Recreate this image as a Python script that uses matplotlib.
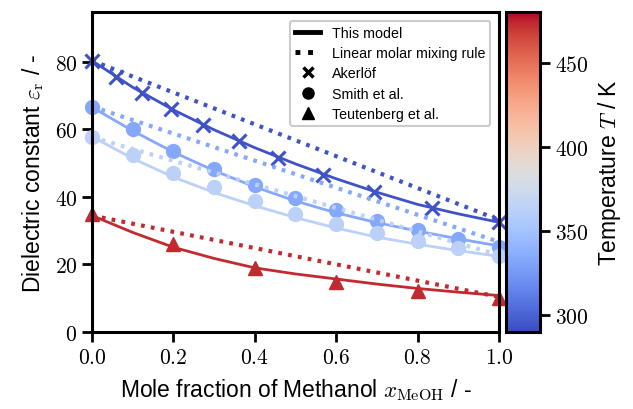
import matplotlib
matplotlib.use('Agg')
import matplotlib.pyplot as plt
from matplotlib.lines import Line2D
from matplotlib.ticker import FormatStrFormatter
import matplotlib.colors as mcolors

plt.rcParams['font.family'] = 'Liberation Sans'
plt.rcParams['mathtext.fontset'] = 'cm'

# temperatures (K)
T_akerlof = 293.15
T_smith = [333.15, 363.15]
T_teut = 473.15
T_min, T_max = 290.0, 480.0

# experimental data
x_akerlof = [0.0, 0.0588, 0.1233, 0.1942, 0.2727, 0.36, 0.4576, 0.5675, 0.6923, 0.835, 1.0]
eps_akerlof = [80.4, 75.6, 70.7, 66.1, 61.3, 56.5, 51.5, 46.6, 41.6, 36.7, 32.5]

x_smith = [0.0, 0.1, 0.2, 0.3, 0.4, 0.5, 0.6, 0.7, 0.8, 0.9, 1.0]
eps_smith_333 = [66.6, 60.1, 53.7, 48.3, 43.6, 39.6, 36.1, 33.0, 30.2, 27.6, 25.1]
eps_smith_363 = [57.9, 52.4, 47.1, 42.9, 38.9, 35.1, 32.0, 29.3, 27.1, 24.9, 22.6]

x_teut = [0.0, 0.2, 0.4, 0.6, 0.8, 1.0]
eps_teut = [35.0, 26.1, 19.0, 14.7, 12.2, 10.0]

# this model
x_model = [0.0, 0.1, 0.2, 0.3, 0.4, 0.5, 0.6, 0.7, 0.8, 0.9, 1.0]
model_293 = [80.4, 72.5, 65.8, 59.9, 54.6, 49.8, 45.4, 41.4, 37.8, 35.0, 32.5]
model_333 = [66.6, 59.6, 53.3, 47.8, 43.0, 38.8, 35.3, 32.4, 29.9, 27.6, 25.5]
model_363 = [57.9, 51.4, 45.9, 41.3, 37.4, 33.9, 30.8, 28.1, 26.0, 24.1, 22.4]
model_473 = [34.5, 29.5, 25.1, 21.8, 19.0, 17.2, 15.7, 14.2, 12.9, 11.8, 10.8]

# linear molar mixing rule
x_lin = [0.0, 1.0]
lin_293 = [80.4, 33.2]
lin_333 = [66.8, 26.7]
lin_363 = [57.7, 22.8]
lin_473 = [34.5, 10.4]

cmap = plt.get_cmap('coolwarm')
norm = mcolors.Normalize(vmin=T_min, vmax=T_max)

fig = plt.figure(figsize=(6.33, 4.10), dpi=100)
ax = fig.add_axes([0.1453, 0.1878, 0.643, 0.7805])
cax = fig.add_axes([0.7994, 0.1878, 0.0537, 0.7805])

lw = 2.0
dot = (0, (0.9, 1.5))
c = cmap(norm(T_akerlof))
ax.plot(x_model, model_293, color=c, lw=lw)
ax.plot(x_lin, lin_293, color=c, lw=3.0, ls=dot)
ax.plot(x_akerlof, eps_akerlof, ls='', marker='x', ms=10, mew=2.2, color=c, clip_on=False)

for T, mod, lin, dat in [(T_smith[0], model_333, lin_333, eps_smith_333),
                         (T_smith[1], model_363, lin_363, eps_smith_363)]:
    c = cmap(norm(T))
    ax.plot(x_model, mod, color=c, lw=lw)
    ax.plot(x_lin, lin, color=c, lw=3.0, ls=dot)
    ax.plot(x_smith, dat, ls='', marker='o', ms=10, color=c, clip_on=False)

c = cmap(norm(T_teut))
ax.plot(x_model, model_473, color=c, lw=lw)
ax.plot(x_lin, lin_473, color=c, lw=3.0, ls=dot)
ax.plot(x_teut, eps_teut, ls='', marker='^', ms=10.5, color=c, clip_on=False)

ax.set_xlim(0, 1)
ax.set_ylim(0, 94.8)
ax.set_xticks([0, 0.2, 0.4, 0.6, 0.8, 1.0])
ax.set_yticks([0, 20, 40, 60, 80])
ax.xaxis.set_major_formatter(FormatStrFormatter('$%.1f$'))
ax.yaxis.set_major_formatter(FormatStrFormatter('$%d$'))
ax.tick_params(labelsize=15.5, width=2, length=7, direction='out')
for s in ax.spines.values():
    s.set_linewidth(2.2)
ax.set_xlabel('Mole fraction of Methanol $x_\\mathrm{MeOH}$ / -', fontsize=16.5, labelpad=6)
ax.set_ylabel('Dielectric constant $\\varepsilon_\\mathrm{r}$ / -', fontsize=16.5, labelpad=6)

handles = [Line2D([], [], color='k', lw=3.5),
           Line2D([], [], color='k', lw=3.5, ls=(0, (1, 1.6))),
           Line2D([], [], color='k', ls='', marker='x', mew=2.5, ms=7),
           Line2D([], [], color='k', ls='', marker='o', ms=8),
           Line2D([], [], color='k', ls='', marker='^', ms=8)]
labels = ['This model', 'Linear molar mixing rule', 'Akerl\u00f6f', 'Smith et al.', 'Teutenberg et al.']
leg = ax.legend(handles, labels, loc='upper right', fontsize=10.3, handlelength=1.8,
                labelspacing=0.45, borderaxespad=0.6, fancybox=True, framealpha=1,
                borderpad=0.35)
leg.get_frame().set_edgecolor('#cccccc')
leg.get_frame().set_linewidth(1.5)

sm = plt.cm.ScalarMappable(cmap=cmap, norm=norm)
cb = fig.colorbar(sm, cax=cax)
cb.set_ticks([300, 350, 400, 450])
cb.ax.yaxis.set_major_formatter(FormatStrFormatter('$%d$'))
cb.ax.tick_params(labelsize=15.5, width=2, length=7)
cb.outline.set_linewidth(2.2)
cb.set_label('Temperature $T$ / K', fontsize=16.5, labelpad=6)

fig.savefig('out.png', dpi=100)
